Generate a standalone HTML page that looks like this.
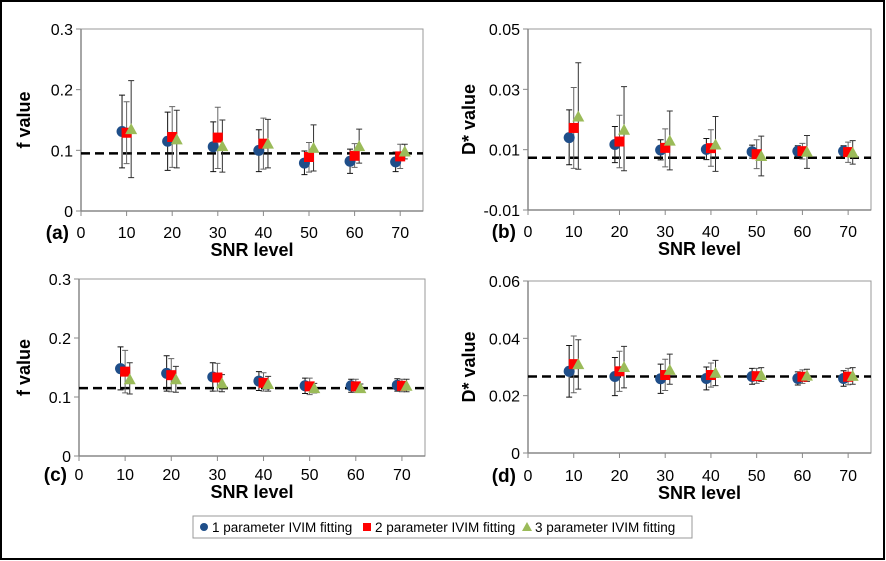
<!DOCTYPE html>
<html><head><meta charset="utf-8"><style>
body{margin:0;background:#fff;}
svg{display:block;font-family:"Liberation Sans",sans-serif;}
</style></head><body>
<svg id="fig" width="886" height="561">
<rect x="1" y="1" width="883" height="558" fill="#fff" stroke="#000" stroke-width="2"/>
</svg>
<script>
const snr=[10,20,30,40,50,60,70];
// panel a
const aBlue=[0.131,0.115,0.106,0.100,0.079,0.082,0.081];
const aBlueLo=[0.071,0.067,0.065,0.065,0.060,0.062,0.065];
const aBlueHi=[0.191,0.163,0.147,0.134,0.099,0.102,0.097];
const aRed=[0.129,0.122,0.121,0.111,0.089,0.091,0.090];
const aRedLo=[0.078,0.072,0.070,0.069,0.064,0.072,0.070];
const aRedHi=[0.180,0.172,0.171,0.153,0.113,0.111,0.110];
const aGreen=[0.135,0.118,0.107,0.111,0.104,0.107,0.098];
const aGreenLo=[0.055,0.071,0.064,0.071,0.066,0.079,0.086];
const aGreenHi=[0.215,0.166,0.150,0.151,0.142,0.135,0.110];
const aRef=0.095;
// panel b
const bBlue=[0.0140,0.0117,0.0099,0.0101,0.0093,0.0095,0.0095];
const bBlueLo=[0.0050,0.0057,0.0066,0.0067,0.0072,0.0078,0.0078];
const bBlueHi=[0.0232,0.0177,0.0133,0.0137,0.0115,0.0113,0.0113];
const bRed=[0.0172,0.0127,0.0106,0.0105,0.0085,0.0095,0.0092];
const bRedLo=[0.0038,0.0040,0.0043,0.0045,0.0037,0.0069,0.0058];
const bRedHi=[0.0306,0.0214,0.0169,0.0166,0.0133,0.0121,0.0125];
const bGreen=[0.0210,0.0166,0.0130,0.0117,0.0079,0.0093,0.0090];
const bGreenLo=[0.0035,0.0030,0.0033,0.0028,0.0013,0.0038,0.0052];
const bGreenHi=[0.0388,0.0309,0.0228,0.0210,0.0145,0.0147,0.0130];
const bRef=0.0073;
// panel c
const cBlue=[0.148,0.140,0.134,0.127,0.119,0.119,0.120];
const cBlueLo=[0.112,0.110,0.110,0.111,0.106,0.108,0.110];
const cBlueHi=[0.185,0.170,0.158,0.143,0.132,0.130,0.131];
const cRed=[0.143,0.137,0.133,0.124,0.118,0.118,0.119];
const cRedLo=[0.107,0.109,0.110,0.110,0.104,0.108,0.109];
const cRedHi=[0.179,0.165,0.157,0.141,0.132,0.130,0.130];
const cGreen=[0.130,0.130,0.123,0.122,0.115,0.115,0.119];
const cGreenLo=[0.105,0.108,0.109,0.110,0.107,0.108,0.109];
const cGreenHi=[0.158,0.152,0.138,0.135,0.123,0.122,0.130];
const cRef=0.115;
// panel d
const dBlue=[0.0285,0.0267,0.0259,0.0260,0.0267,0.0260,0.0260];
const dBlueLo=[0.0195,0.0200,0.0208,0.0220,0.0240,0.0237,0.0233];
const dBlueHi=[0.0375,0.0333,0.0310,0.0300,0.0295,0.0283,0.0287];
const dRed=[0.0310,0.0285,0.0272,0.0272,0.0268,0.0266,0.0266];
const dRedLo=[0.0210,0.0215,0.0218,0.0230,0.0243,0.0243,0.0238];
const dRedHi=[0.0408,0.0355,0.0327,0.0314,0.0295,0.0290,0.0295];
const dGreen=[0.0310,0.0300,0.0290,0.0280,0.0272,0.0270,0.0269];
const dGreenLo=[0.0223,0.0227,0.0240,0.0235,0.0250,0.0250,0.0240];
const dGreenHi=[0.0395,0.0372,0.0345,0.0323,0.0298,0.0292,0.0298];
const dRef=0.0267;
const xTicks=[0,10,20,30,40,50,60,70];
const aTicks=["0","0.1","0.2","0.3"];
const bTicks=["-0.01","0.01","0.03","0.05"];
const cTicks=["0","0.1","0.2","0.3"];
const dTicks=["0","0.02","0.04","0.06"];

const NS="http://www.w3.org/2000/svg";
const svg=document.getElementById('fig');
function mk(tag,attrs,parent){const e=document.createElementNS(NS,tag);for(const k in attrs)e.setAttribute(k,attrs[k]);(parent||svg).appendChild(e);return e;}

function panel(p){
  const g=mk('g',{});
  
  
  const xs=v=>p.x0+(v/75)*(p.x1-p.x0);
  const ys=v=>p.yb-(v-p.ymin)/(p.ymax-p.ymin)*(p.yb-p.yt);
  const fr=mk('rect',{x:p.x0,y:p.yt,width:p.x1-p.x0,height:p.yb-p.yt,fill:'none',stroke:'#999','stroke-width':1},g);
  
  
  mk('line',{x1:p.x0,y1:p.yt,x2:p.x0,y2:p.yb,stroke:'#888','stroke-width':1.5},g);
  mk('line',{x1:p.x0,y1:p.yb,x2:p.x1,y2:p.yb,stroke:'#888','stroke-width':1.5},g);
  p.ticks.forEach(t=>{
    const v=parseFloat(t);const y=ys(v);
    mk('line',{x1:p.x0-5,y1:y,x2:p.x0,y2:y,stroke:'#888'},g);
    const tx=mk('text',{x:p.x0-8,y:y+6,'text-anchor':'end','font-size':16,fill:'#000'},g);
    tx.textContent=t;
    
    
  });
  xTicks.forEach(v=>{
    const x=xs(v);
    mk('line',{x1:x,y1:p.yb,x2:x,y2:p.yb+5,stroke:'#888'},g);
    const tx=mk('text',{x:x,y:p.yb+p.tly,'text-anchor':'middle','font-size':16,fill:'#000'},g);
    tx.textContent=v;
    
    
  });
  const lab=mk('text',{x:p.x0-12,y:p.yb+p.tly+1,'text-anchor':'end','font-size':19,'font-weight':'bold'},g);
  lab.textContent='('+p.id+')';
  
  
  const xt=mk('text',{x:(xs(0)+xs(75))/2,y:p.yb+p.tly+18,'text-anchor':'middle','font-size':18,'font-weight':'bold'},g);
  xt.textContent='SNR level';
  
  
  const cy=(p.yt+p.yb)/2;
  const yt=mk('text',{x:p.ytx,y:cy,'text-anchor':'middle','font-size':18,'font-weight':'bold',transform:`rotate(-90 ${p.ytx} ${cy})`},g);
  yt.textContent=p.ytitle;
  
  
  const ref=mk('line',{x1:p.x0,y1:ys(p.ref),x2:p.x1,y2:ys(p.ref),stroke:'#000','stroke-width':2.5,'stroke-dasharray':'9,5'},g);
  
  
  const series=[
    {v:p.s[0],lo:p.s[1],hi:p.s[2],off:-1,col:'#1f4e89',ec:'#111',shape:'c',n:'1-param'},
    {v:p.s[3],lo:p.s[4],hi:p.s[5],off:0,col:'#ff0000',ec:'#666',shape:'s',n:'2-param'},
    {v:p.s[6],lo:p.s[7],hi:p.s[8],off:1,col:'#9bbb59',ec:'#333',shape:'t',n:'3-param'}];
  series.forEach(s=>{
    snr.forEach((xv,i)=>{
      const x=xs(xv+s.off);
      const eb=mk('path',{d:`M${x},${ys(s.lo[i])}V${ys(s.hi[i])}M${x-3},${ys(s.lo[i])}h6M${x-3},${ys(s.hi[i])}h6`,stroke:s.ec,'stroke-width':1,fill:'none'},g);
      
      
    });
  });
  series.forEach(s=>{
    snr.forEach((xv,i)=>{
      const x=xs(xv+s.off),y=ys(s.v[i]);let m;
      if(s.shape==='c')m=mk('circle',{cx:x,cy:y,r:5.5,fill:s.col},g);
      else if(s.shape==='s')m=mk('rect',{x:x-5,y:y-5,width:10,height:10,fill:s.col},g);
      else m=mk('polygon',{points:`${x},${y-6} ${x+6},${y+5} ${x-6},${y+5}`,fill:s.col},g);
      
      
    });
  });
}
panel({id:'a',x0:81,x1:423,yt:29,yb:211,ymin:0,ymax:0.3,ticks:aTicks,ytitle:'f value',ytx:30,ref:aRef,tly:27,s:[aBlue,aBlueLo,aBlueHi,aRed,aRedLo,aRedHi,aGreen,aGreenLo,aGreenHi]});
panel({id:'b',x0:528,x1:871,yt:29,yb:210,ymin:-0.01,ymax:0.05,ticks:bTicks,ytitle:'D* value',ytx:475,ref:bRef,tly:27,s:[bBlue,bBlueLo,bBlueHi,bRed,bRedLo,bRedHi,bGreen,bGreenLo,bGreenHi]});
panel({id:'c',x0:79,x1:425,yt:279,yb:456,ymin:0,ymax:0.3,ticks:cTicks,ytitle:'f value',ytx:30,ref:cRef,tly:24,s:[cBlue,cBlueLo,cBlueHi,cRed,cRedLo,cRedHi,cGreen,cGreenLo,cGreenHi]});
panel({id:'d',x0:528,x1:871,yt:281,yb:453,ymin:0,ymax:0.06,ticks:dTicks,ytitle:'D* value',ytx:475,ref:dRef,tly:28,s:[dBlue,dBlueLo,dBlueHi,dRed,dRedLo,dRedHi,dGreen,dGreenLo,dGreenHi]});

// legend
const lg=mk('g',{});


mk('rect',{x:193,y:516,width:499,height:22,fill:'#fff',stroke:'#999'},lg);
const items=[{x:204,t:'1 parameter IVIM fitting',s:'c',c:'#1f4e89'},{x:367,t:'2 parameter IVIM fitting',s:'s',c:'#ff0000'},{x:527,t:'3 parameter IVIM fitting',s:'t',c:'#9bbb59'}];
items.forEach(it=>{
  const g=mk('g',{},lg);
  
  
  const y=527;
  if(it.s==='c')mk('circle',{cx:it.x,cy:y,r:4,fill:it.c},g);
  else if(it.s==='s')mk('rect',{x:it.x-4,y:y-4,width:8,height:8,fill:it.c},g);
  else mk('polygon',{points:`${it.x},${y-5} ${it.x+5},${y+4} ${it.x-5},${y+4}`,fill:it.c},g);
  const t=mk('text',{x:it.x+8,y:y+5,'font-size':13.5},g);
  t.textContent=it.t;
});
</script>
</body></html>
